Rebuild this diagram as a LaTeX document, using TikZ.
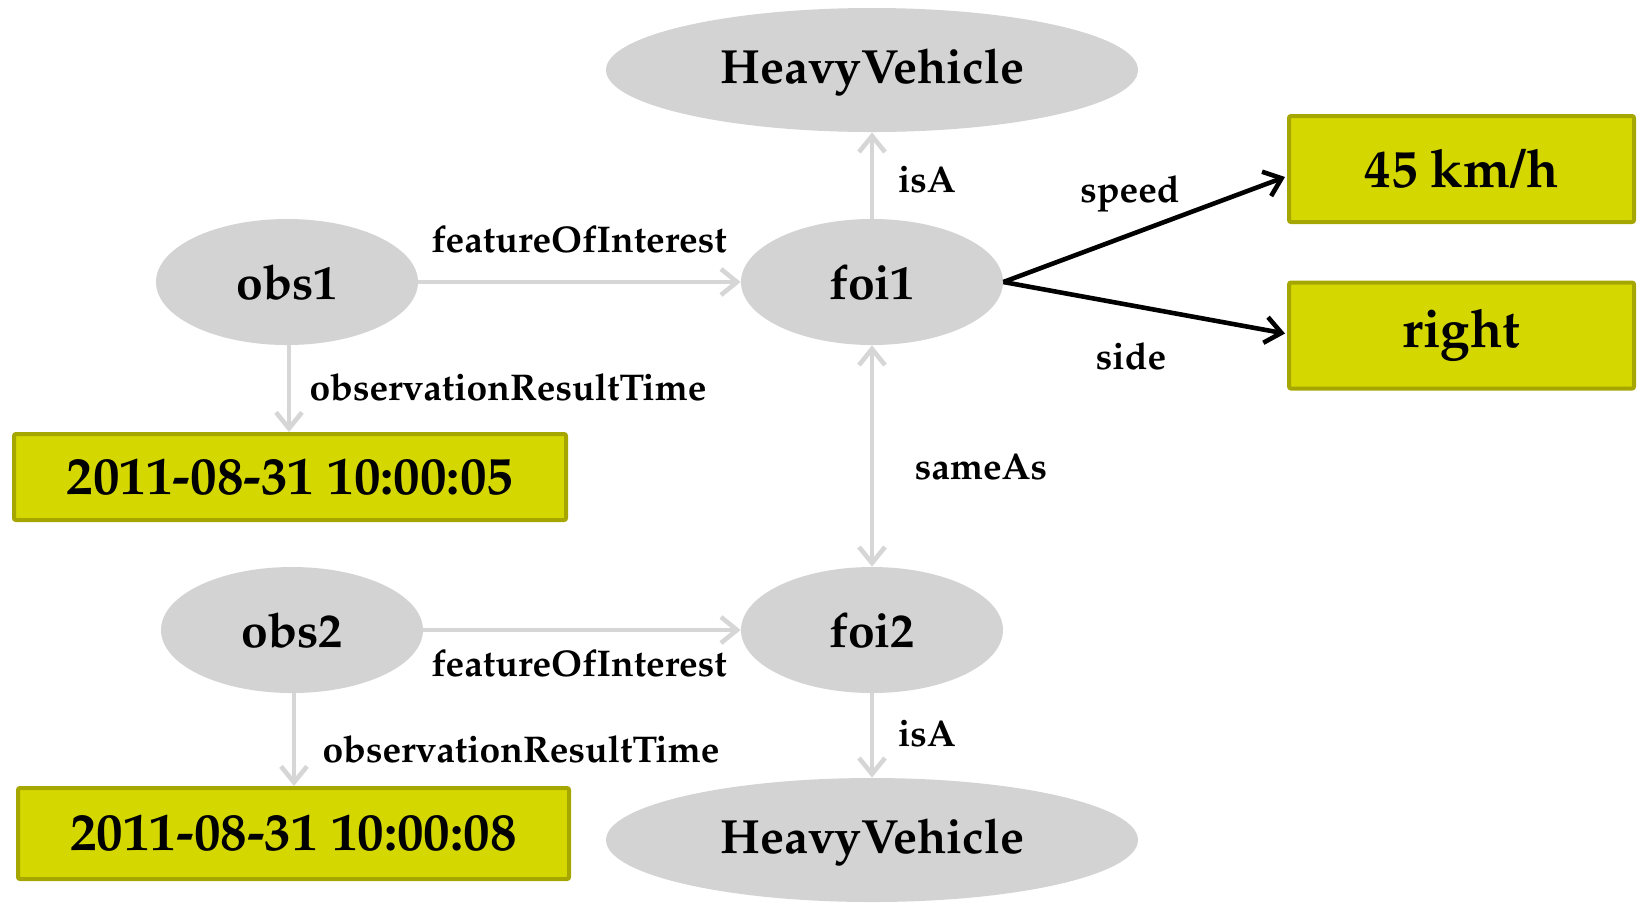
\documentclass[tikz,border=0pt]{standalone}
\usepackage[T1]{fontenc}
\renewcommand{\rmdefault}{ppl}
\usetikzlibrary{arrows.meta,shapes.geometric,calc}
\definecolor{ellgray}{RGB}{211,211,211}
\definecolor{arrgray}{RGB}{214,214,214}
\definecolor{valfill}{RGB}{212,215,0}
\definecolor{valdraw}{RGB}{166,166,0}
\begin{document}
\begin{tikzpicture}[x=0.5pt,y=-0.5pt,
  res/.style={ellipse, fill=ellgray, inner sep=0pt, minimum width=131pt, minimum height=63pt, font={\fontsize{24}{28}\selectfont\bfseries}},
  cls/.style={res, minimum width=266pt, minimum height=62pt, text height=16.6pt, text depth=2.8pt},
  val/.style={rectangle, fill=valfill, draw=valdraw, line width=2pt, rounded corners=1pt, inner sep=0pt, font={\fontsize{26.5}{32}\selectfont\bfseries}},
  grayarrow/.style={draw=arrgray, line width=2.3pt, -{Straight Barb[length=8pt,width=13pt]}},
  grayboth/.style={draw=arrgray, line width=2.3pt, {Straight Barb[length=8pt,width=13pt]}-{Straight Barb[length=8pt,width=13pt]}},
  blackarrow/.style={draw=black, line width=2.3pt, -{Straight Barb[length=8pt,width=13pt]}},
  lbl/.style={inner sep=0pt, font={\fontsize{18.6}{22}\selectfont\bfseries}},
]
\useasboundingbox (0,0) rectangle (1637,902);

\node[cls] (hv1) at (872,70) {HeavyVehicle};
\node[res] (obs1) at (287,282) {obs1};
\node[res] (foi1) at (872,282) {foi1};
\node[res] (obs2) at (292,630) {obs2};
\node[res] (foi2) at (872,630) {foi2};
\node[cls] (hv2) at (872,840) {HeavyVehicle};

\node[val, minimum width=172.5pt, minimum height=53pt] (speedv) at (1461.5,169) {45 km/h};
\node[val, minimum width=172.5pt, minimum height=53pt] (sidev) at (1461.5,335.5) {right};
\node[val, minimum width=276pt, minimum height=43pt] (t1) at (290,477) {2011-08-31 10:00:05};
\node[val, minimum width=275.5pt, minimum height=45.5pt] (t2) at (293.5,833.5) {2011-08-31 10:00:08};

\draw[grayarrow] (obs1.east) -- (foi1.west);
\draw[grayarrow] (foi1.north) -- (hv1.south);
\draw[grayarrow] ($(obs1.south)+(2,0)$) -- ($(obs1.south |- t1.north)+(2,0)$);
\draw[grayboth] (foi1.south) -- (foi2.north);
\draw[grayarrow] (obs2.east) -- (foi2.west);
\draw[grayarrow] ($(obs2.south)+(2,0)$) -- ($(obs2.south |- t2.north)+(2,0)$);
\draw[grayarrow] (foi2.south) -- (hv2.north);
\draw[blackarrow] (foi1.east) -- ($(speedv.west)+(-2,8)$);
\draw[blackarrow] (foi1.east) -- ($(sidev.west)+(-2,-2)$);

\node[lbl] (l1) at (579,239) {featureOfInterest};
\node[lbl] (l2) at (927,180) {isA};
\node[lbl] (l3) at (508,387) {observationResultTime};
\node[lbl] (l4) at (981,467) {sameAs};
\node[lbl] (l5) at (1130,194) {speed};
\node[lbl] (l6) at (1131,356) {side};
\node[lbl] (l7) at (579,663) {featureOfInterest};
\node[lbl] (l8) at (521,749) {observationResultTime};
\node[lbl] (l9) at (927,734) {isA};
\end{tikzpicture}
\end{document}
